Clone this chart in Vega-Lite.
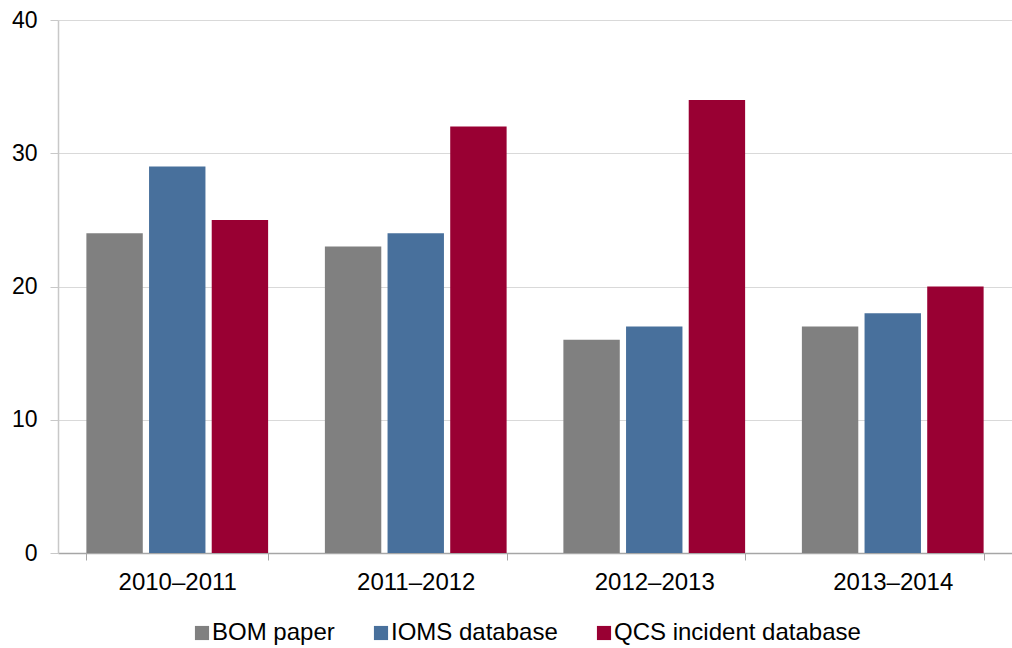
{
  "$schema": "https://vega.github.io/schema/vega-lite/v6.json",
  "width": 954,
  "height": 533,
  "autosize": {"type": "none"},
  "padding": {"left": 58, "top": 20, "right": 0, "bottom": 95},
  "background": "#ffffff",
  "config": {
    "font": "Liberation Sans",
    "view": {"stroke": null}
  },
  "data": {
    "values": [
      {"period": "2010–2011", "source": "BOM paper", "count": 24},
      {"period": "2010–2011", "source": "IOMS database", "count": 29},
      {"period": "2010–2011", "source": "QCS incident database", "count": 25},
      {"period": "2011–2012", "source": "BOM paper", "count": 23},
      {"period": "2011–2012", "source": "IOMS database", "count": 24},
      {"period": "2011–2012", "source": "QCS incident database", "count": 32},
      {"period": "2012–2013", "source": "BOM paper", "count": 16},
      {"period": "2012–2013", "source": "IOMS database", "count": 17},
      {"period": "2012–2013", "source": "QCS incident database", "count": 34},
      {"period": "2013–2014", "source": "BOM paper", "count": 17},
      {"period": "2013–2014", "source": "IOMS database", "count": 18},
      {"period": "2013–2014", "source": "QCS incident database", "count": 20}
    ]
  },
  "mark": {"type": "bar"},
  "encoding": {
    "x": {
      "field": "period",
      "type": "nominal",
      "sort": null,
      "scale": {"paddingInner": 0.238, "paddingOuter": 0.119},
      "axis": {
        "title": null,
        "labelAngle": 0,
        "labelFontSize": 24,
        "labelColor": "#000000",
        "labelPadding": 10,
        "tickBand": "extent",
        "tickSize": 7,
        "tickColor": "#a6a6a6",
        "domainColor": "#a6a6a6",
        "domainWidth": 1.5,
        "grid": false
      }
    },
    "xOffset": {
      "field": "source",
      "type": "nominal",
      "sort": ["BOM paper", "IOMS database", "QCS incident database"],
      "scale": {"paddingInner": 0.1, "paddingOuter": 0}
    },
    "y": {
      "field": "count",
      "type": "quantitative",
      "scale": {"domain": [0, 40], "nice": false},
      "axis": {
        "title": null,
        "values": [0, 10, 20, 30, 40],
        "labelFontSize": 23,
        "labelColor": "#000000",
        "labelPadding": 13,
        "tickSize": 8,
        "tickColor": "#c8c8c8",
        "domainColor": "#c8c8c8",
        "domainWidth": 1.5,
        "gridColor": "#d9d9d9",
        "gridWidth": 1.2
      }
    },
    "color": {
      "field": "source",
      "type": "nominal",
      "sort": ["BOM paper", "IOMS database", "QCS incident database"],
      "scale": {
        "domain": ["BOM paper", "IOMS database", "QCS incident database"],
        "range": ["#808080", "#48709c", "#990033"]
      },
      "legend": {
        "title": null,
        "orient": "none",
        "direction": "horizontal",
        "legendX": 132,
        "legendY": 601,
        "symbolType": "square",
        "symbolSize": 200,
        "symbolStrokeWidth": 0,
        "labelFontSize": 24,
        "labelLimit": 400,
        "labelColor": "#000000",
        "labelOffset": -2,
        "columnPadding": 34
      }
    }
  }
}
